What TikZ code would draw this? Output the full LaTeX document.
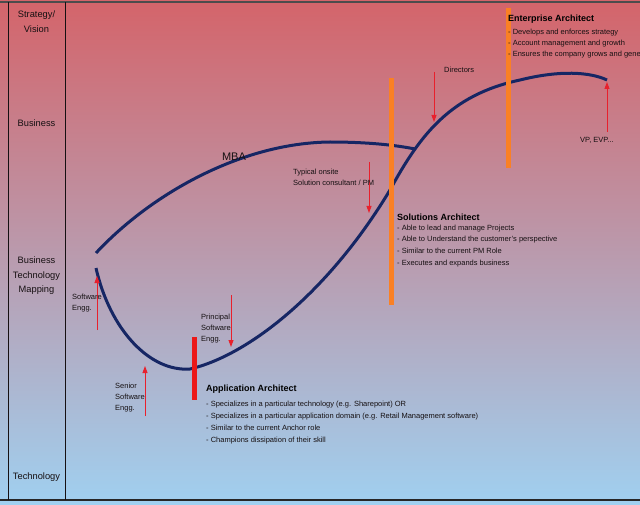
\documentclass[tikz,border=0pt]{standalone}
\usepackage{fontspec}
\setmainfont{Liberation Sans}
\usetikzlibrary{arrows.meta}
\definecolor{skytop}{RGB}{212,100,106}
\definecolor{skymid}{RGB}{192,158,180}
\definecolor{skybot}{RGB}{160,208,240}
\definecolor{navy}{RGB}{22,38,100}
\definecolor{bar}{RGB}{250,128,36}
\definecolor{redbar}{RGB}{236,24,24}
\definecolor{redarr}{RGB}{232,32,44}
\definecolor{ink}{RGB}{22,16,18}
\begin{document}
\begin{tikzpicture}[x=1pt,y=-1pt,
    band/.style={align=center,inner sep=0pt,text=ink,font=\fontsize{9.3}{14.5}\selectfont},
    lbl/.style={anchor=north west,align=left,inner sep=0pt,text=ink,font=\fontsize{7.5}{11}\selectfont},
    ttl/.style={anchor=west,inner sep=0pt,text=black,font=\fontsize{9}{11}\selectfont\bfseries},
    curve/.style={navy,line width=3pt},
    arr/.style={redarr,line width=0.9pt,-{Triangle[width=5pt,length=7pt]}}]
  \clip (0,0) rectangle (640,505);
  \shade[top color=skytop,middle color=skymid,bottom color=skybot] (0,0) rectangle (640,505);
  % frame of the left column
  \draw[gray!60!black,line width=1.5pt] (0,2) -- (640,2);
  \draw[gray!30!black,line width=1.5pt] (0,500) -- (640,500);
  \draw[ink,line width=1pt] (8,2) -- (8,500);
  \draw[ink,line width=1pt] (65,2) -- (65,500);
  \node[band,anchor=north] (strat) at (36.5,11) {Strategy/\\Vision};
  \node[band] (bus) at (36.5,123) {Business};
  \node[band,anchor=north] (btm) at (36.5,257) {Business\\Technology\\Mapping};
  \node[band] (tech) at (36.5,477) {Technology};
  % career curves
  \draw[curve] (96,253) .. controls (150,195) and (240,143) .. (330,142)
    .. controls (360,142) and (390,144) .. (415,149);
  \draw[curve] (96,268) .. controls (110,330) and (150,372) .. (190,369)
    .. controls (250,355) and (330,290) .. (390,190)
    .. controls (420,135) and (450,95) .. (520,80)
    .. controls (560,70) and (590,72) .. (607,80);
  \node[inner sep=0pt,text=ink,font=\fontsize{11}{13}\selectfont] (mba) at (234,157) {MBA};
  % role bars
  \fill[bar] (388.5,78) rectangle (393.5,305);
  \fill[bar] (505.5,8) rectangle (510.5,168);
  \fill[redbar] (191.5,337) rectangle (196.5,400);
  % arrows to the curve
  \foreach \n/\x/\ya/\yb in {sw/97/330/276,ssw/145/416/366,psw/231/295/347,tos/369/162/213,dir/434/72/122,vp/607/132/82}{
    \coordinate (\n-s) at (\x,\ya);
    \coordinate (\n-e) at (\x,\yb);
    \draw[arr] (\n-s) -- (\n-e);
  }
  \node[lbl] (swtxt) at (72,293.5) {Software\\Engg.};
  \node[lbl] (sswtxt) at (115,382.5) {Senior\\Software\\Engg.};
  \node[lbl] (pswtxt) at (201,313.5) {Principal\\Software\\Engg.};
  \node[lbl] (tostxt) at (293,168.5) {Typical onsite\\Solution consultant / PM};
  \node[lbl] (dirtxt) at (444,66.5) {Directors};
  \node[lbl] (vptxt) at (580,137.5) {VP, EVP...};
  % role descriptions
  \node[ttl] (ea) at (508,19) {Enterprise Architect};
  \node[lbl] (eatxt) at (508,28.5) {- Develops and enforces strategy\\- Account management and growth\\- Ensures the company grows and generates};
  \node[ttl] (sa) at (397,217) {Solutions Architect};
  \node[lbl,font=\fontsize{7.5}{11.7}\selectfont] (satxt) at (397,224.5) {- Able to lead and manage Projects\\- Able to Understand the customer's perspective\\- Similar to the current PM Role\\- Executes and expands business};
  \node[ttl] (aa) at (206,389) {Application Architect};
  \node[lbl,font=\fontsize{7.5}{12.2}\selectfont] (aatxt) at (206,400.5) {- Specializes in a particular technology (e.g. Sharepoint) OR\\- Specializes in a particular application domain (e.g. Retail Management software)\\- Similar to the current Anchor role\\- Champions dissipation of their skill};
\end{tikzpicture}
\end{document}
